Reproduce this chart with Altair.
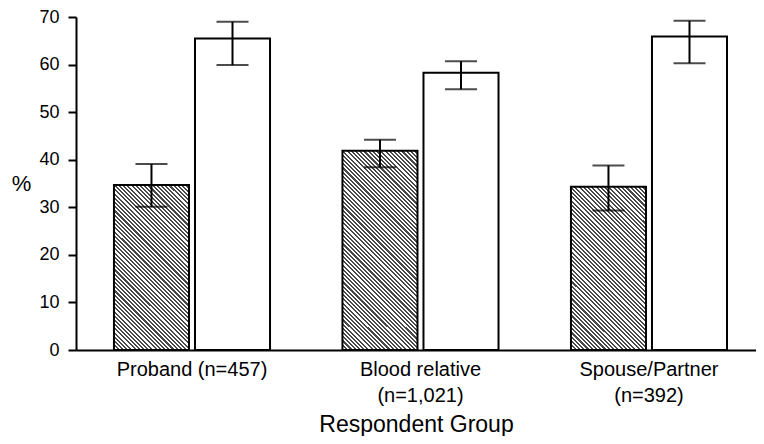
import altair as alt
import pandas as pd

# ---- data ----
groups = ["Proband (n=457)", "Blood relative|(n=1,021)", "Spouse/Partner|(n=392)"]
series = ["hatched", "open"]
hatched_vals = [34.7, 41.9, 34.3]
hatched_low = [30.1, 38.4, 29.3]
hatched_high = [39.1, 44.2, 38.8]
open_vals = [65.5, 58.3, 65.9]
open_low = [59.9, 54.8, 60.3]
open_high = [69.0, 60.7, 69.2]
y_ticks = [0, 10, 20, 30, 40, 50, 60, 70]

rows = []
for i, g in enumerate(groups):
    rows.append(dict(group=g, series="hatched", value=hatched_vals[i],
                     low=hatched_low[i], high=hatched_high[i]))
    rows.append(dict(group=g, series="open", value=open_vals[i],
                     low=open_low[i], high=open_high[i]))
df = pd.DataFrame(rows)

W, H = 680, 333
YMAX = 70
FONT = "Liberation Sans"
BAR_W = 75.0


def hatch_gradient(value, period=3.0, dark=0.5):
    """Diagonal '\\' stripes built as a linear gradient in bbox units."""
    h = value / YMAX * H
    w = BAR_W
    a = (w + h) / (w * w + h * h)
    x2 = a * w
    y2 = 1 - a * h
    span = (w + h) / (2 ** 0.5)
    n = max(1, round(span / period))
    stops = []
    for k in range(n):
        s0 = k / n
        s1 = (k + dark) / n
        s2 = (k + 1) / n
        stops += [
            alt.GradientStop(offset=s0, color="#4a4a4a"),
            alt.GradientStop(offset=s1, color="#4a4a4a"),
            alt.GradientStop(offset=s1, color="#ffffff"),
            alt.GradientStop(offset=s2, color="#ffffff"),
        ]
    return alt.Gradient(gradient="linear", x1=0, y1=1, x2=x2, y2=y2, stops=stops)


x_enc = alt.X(
    "group:N", sort=groups,
    scale=alt.Scale(paddingInner=0.317, paddingOuter=0.1465, align=0.567),
    axis=alt.Axis(
        title="Respondent Group", labelAngle=0, ticks=False,
        labelExpr="split(datum.label, '|')", labelLineHeight=26,
        labelFontSize=20, labelFont=FONT, labelColor="black", labelPadding=9,
        titleFontSize=23, titleFont=FONT, titleFontWeight="normal",
        titleColor="black", titlePadding=8,
        domainColor="black", domainWidth=2,
    ),
)
xo_enc = alt.XOffset("series:N", sort=series,
                     scale=alt.Scale(paddingInner=0.074, paddingOuter=0))


def y_enc(field):
    return alt.Y(
        f"{field}:Q",
        scale=alt.Scale(domain=[0, YMAX], nice=False),
        axis=alt.Axis(
            title="%", titleAngle=0, titleX=-55, titleY=166,
            titleAlign="center", titleBaseline="middle",
            titleFontSize=22, titleFont=FONT, titleFontWeight="normal",
            titleColor="black",
            values=y_ticks, grid=False, tickSize=8, tickWidth=2,
            tickColor="black", domainColor="black", domainWidth=2,
            labelFontSize=18, labelFont=FONT, labelColor="black",
            labelPadding=9,
        ),
    )


base = alt.Chart(df).encode(x=x_enc, xOffset=xo_enc)

layers = []
open_bars = base.mark_bar(fill="white", stroke="black", strokeWidth=2).encode(
    y=y_enc("value")
).transform_filter(alt.datum.series == "open")
layers.append(open_bars)

for i, g in enumerate(groups):
    layer = base.mark_bar(
        fill=hatch_gradient(hatched_vals[i]), stroke="black", strokeWidth=2
    ).encode(y=y_enc("value")).transform_filter(
        (alt.datum.series == "hatched") & (alt.datum.group == g)
    )
    layers.append(layer)

rules = base.mark_rule(color="black", strokeWidth=2).encode(
    y=y_enc("low"), y2="high"
)
caps_low = base.mark_tick(color="black", thickness=2, size=32).encode(y=y_enc("low"))
caps_high = base.mark_tick(color="black", thickness=2, size=32).encode(y=y_enc("high"))
layers += [rules, caps_low, caps_high]

chart = alt.layer(*layers).properties(
    width=W, height=H,
    padding={"left": 68, "top": 9, "right": 0, "bottom": 86},
    autosize=alt.AutoSizeParams(type="none"),
    background="white",
).configure_view(stroke=None)

chart.save("out.html", embed_options={"renderer": "svg", "actions": False})
